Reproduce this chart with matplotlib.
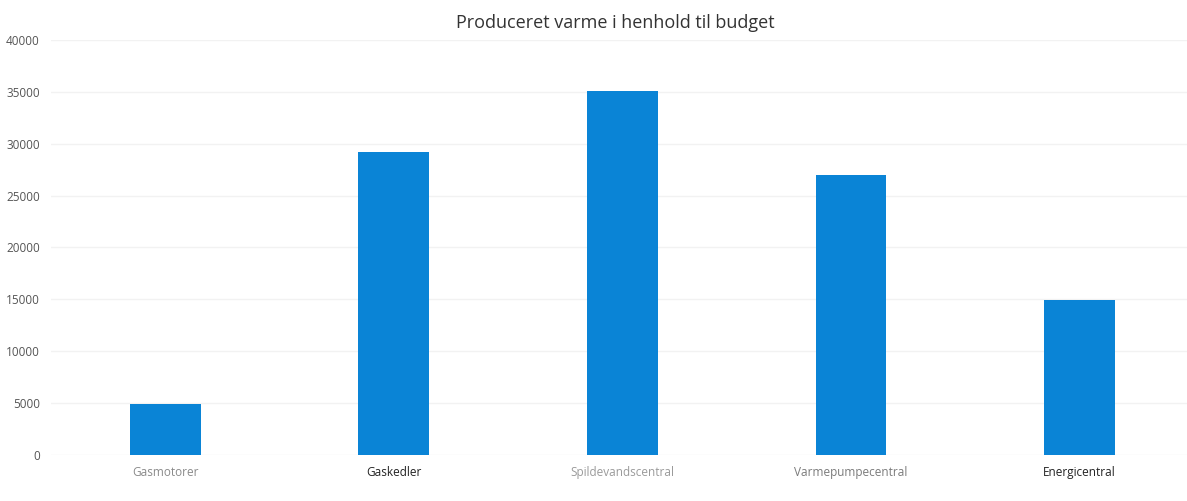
import matplotlib.pyplot as plt

# Data
categories = ['Gasmotorer', 'Gaskedler', 'Spildevandscentral', 'Varmepumpecentral', 'Energicentral']
values = [4900, 29200, 35100, 27000, 14900]
label_colors = ['#8a8a8a', '#222222', '#9a9a9a', '#7a7a7a', '#222222']
yticks = [0, 5000, 10000, 15000, 20000, 25000, 30000, 35000, 40000]

plt.rcParams['font.family'] = ['Open Sans', 'DejaVu Sans']

fig = plt.figure(figsize=(11.87, 5.01), dpi=100)
ax = fig.add_axes([0.043, 0.092, 0.957, 0.828])

x = range(len(categories))
ax.bar(x, values, width=0.31, color='#0a84d6', zorder=2)

ax.set_xlim(-0.5, 4.47)
ax.set_ylim(0, 40000)
ax.set_yticks(yticks)
ax.set_yticklabels([str(t) for t in yticks], fontsize=8.5, color='#555555')
ax.set_xticks(list(x))
ax.set_xticklabels(categories, fontsize=8.5)
for lbl, c in zip(ax.get_xticklabels(), label_colors):
    lbl.set_color(c)

ax.grid(axis='y', color='#f2f2f2', lw=1, zorder=0)
ax.tick_params(length=0, pad=8)
for s in ax.spines.values():
    s.set_visible(False)

fig.text(0.518, 0.955, 'Produceret varme i henhold til budget', ha='center', va='center',
         fontsize=13, color='#333333')

fig.savefig('out.png', dpi=100)
